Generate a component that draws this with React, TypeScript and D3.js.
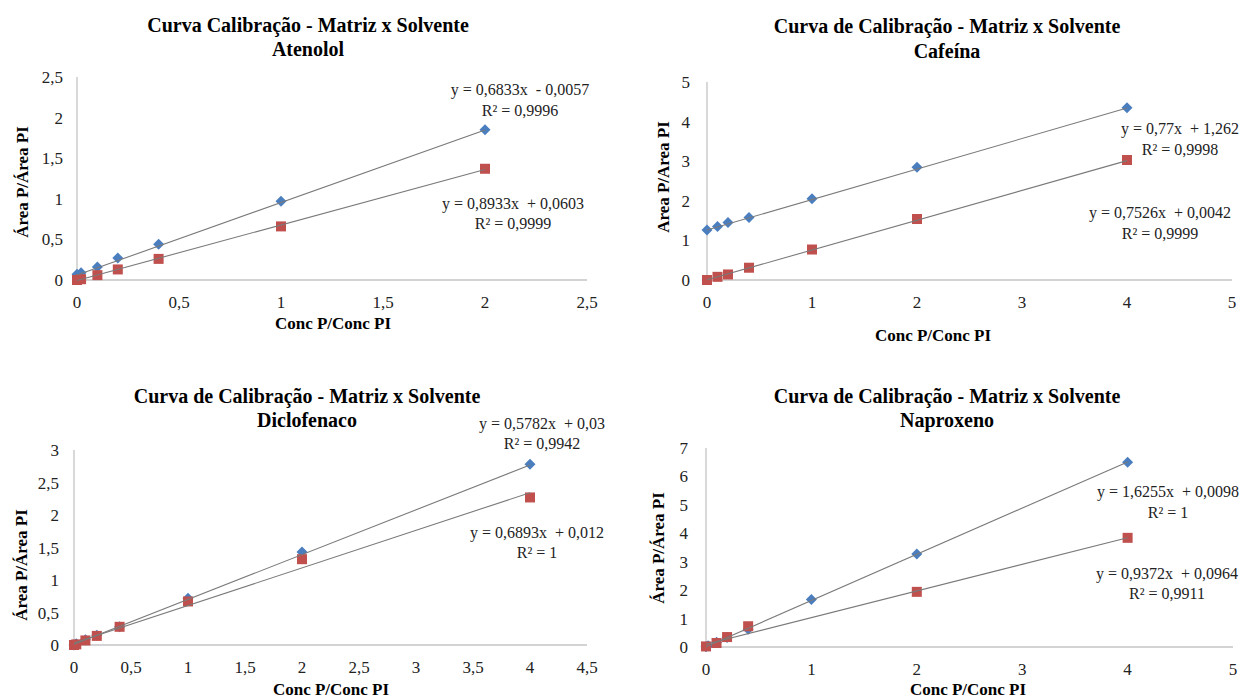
import React from 'react';
import * as d3 from 'd3';

// ---------- DATA ----------
const panelTitles1 = [
  'Curva Calibração - Matriz x Solvente',
  'Curva de Calibração - Matriz x Solvente',
  'Curva de Calibração - Matriz x Solvente',
  'Curva de Calibração - Matriz x Solvente',
];
const panelTitles2 = ['Atenolol', 'Cafeína', 'Diclofenaco', 'Naproxeno'];
const yAxisTitles = ['Área P/Área PI', 'Area P/Area PI', 'Área P/Área PI', 'Área P/Área PI'];
const xAxisTitle = 'Conc P/Conc PI';

// Atenolol
const atenololXBlue = [0, 0.02, 0.1, 0.2, 0.4, 1, 2];
const atenololBlue = [0.07, 0.09, 0.16, 0.27, 0.44, 0.97, 1.85];
const atenololXRed = [0, 0.02, 0.1, 0.2, 0.4, 1, 2];
const atenololRed = [0, 0.01, 0.06, 0.13, 0.26, 0.66, 1.37];
// Cafeína
const cafeinaXBlue = [0, 0.1, 0.2, 0.4, 1, 2, 4];
const cafeinaBlue = [1.26, 1.35, 1.45, 1.58, 2.05, 2.85, 4.35];
const cafeinaXRed = [0, 0.1, 0.2, 0.4, 1, 2, 4];
const cafeinaRed = [0, 0.08, 0.14, 0.31, 0.77, 1.54, 3.03];
// Diclofenaco
const diclofenacoXBlue = [0, 0.02, 0.1, 0.2, 0.4, 1, 2, 4];
const diclofenacoBlue = [0, 0.02, 0.08, 0.15, 0.28, 0.72, 1.43, 2.78];
const diclofenacoXRed = [0, 0.02, 0.1, 0.2, 0.4, 1, 2, 4];
const diclofenacoRed = [0, 0.01, 0.07, 0.14, 0.28, 0.67, 1.32, 2.27];
// Naproxeno
const naproxenoXBlue = [0, 0.02, 0.1, 0.2, 0.4, 1, 2, 4];
const naproxenoBlue = [0.01, 0.04, 0.17, 0.33, 0.62, 1.67, 3.27, 6.5];
const naproxenoXRed = [0, 0.1, 0.2, 0.4, 2, 4];
const naproxenoRed = [0.02, 0.14, 0.35, 0.73, 1.94, 3.84];

// trendlines [slope, intercept] for blue and red series
const trendBlue = [[0.8933, 0.0603], [0.77, 1.262], [0.6893, 0.012], [1.6255, 0.0098]];
const trendRed = [[0.6833, -0.0057], [0.7526, 0.0042], [0.5782, 0.03], [0.9372, 0.0964]];

// equation labels (upper pair, lower pair)
const eqUpper = [
  ['y = 0,6833x  - 0,0057', 'R² = 0,9996'],
  ['y = 0,77x  + 1,262', 'R² = 0,9998'],
  ['y = 0,5782x  + 0,03', 'R² = 0,9942'],
  ['y = 1,6255x  + 0,0098', 'R² = 1'],
];
const eqLower = [
  ['y = 0,8933x  + 0,0603', 'R² = 0,9999'],
  ['y = 0,7526x  + 0,0042', 'R² = 0,9999'],
  ['y = 0,6893x  + 0,012', 'R² = 1'],
  ['y = 0,9372x  + 0,0964', 'R² = 0,9911'],
];

// axis tick values
const xTicks = [
  [0, 0.5, 1, 1.5, 2, 2.5],
  [0, 1, 2, 3, 4, 5],
  [0, 0.5, 1, 1.5, 2, 2.5, 3, 3.5, 4, 4.5],
  [0, 1, 2, 3, 4, 5],
];
const yTicks = [
  [0, 0.5, 1, 1.5, 2, 2.5],
  [0, 1, 2, 3, 4, 5],
  [0, 0.5, 1, 1.5, 2, 2.5, 3],
  [0, 1, 2, 3, 4, 5, 6, 7],
];

// ---------- LAYOUT ----------
const layouts = [
  { left: 77, right: 587, top: 77, bottom: 280, titleX: 308, t1Y: 32, t2Y: 56, xtY: 308, ytX: 63, xTitleX: 333, xTitleY: 329, yTitleX: 22, yTitleY: 182, eqU: [520, 95, 116], eqL: [513, 209, 229] },
  { left: 707, right: 1232, top: 82, bottom: 280, titleX: 947, t1Y: 33, t2Y: 58, xtY: 308, ytX: 690, xTitleX: 933, xTitleY: 341, yTitleX: 663, yTitleY: 177, eqU: [1180, 134, 155], eqL: [1160, 218, 239] },
  { left: 74, right: 587, top: 450, bottom: 645, titleX: 307, t1Y: 403, t2Y: 427, xtY: 673, ytX: 59, xTitleX: 331, xTitleY: 695, yTitleX: 21, yTitleY: 565, eqU: [542, 429, 449], eqL: [537, 538, 558] },
  { left: 706, right: 1233, top: 448, bottom: 647, titleX: 947, t1Y: 403, t2Y: 427, xtY: 675, ytX: 688, xTitleX: 968, xTitleY: 695, yTitleX: 658, yTitleY: 548, eqU: [1168, 497, 518], eqL: [1167, 579, 599] },
];

const seriesBlue = [
  [atenololXBlue, atenololBlue],
  [cafeinaXBlue, cafeinaBlue],
  [diclofenacoXBlue, diclofenacoBlue],
  [naproxenoXBlue, naproxenoBlue],
];
const seriesRed = [
  [atenololXRed, atenololRed],
  [cafeinaXRed, cafeinaRed],
  [diclofenacoXRed, diclofenacoRed],
  [naproxenoXRed, naproxenoRed],
];

const FONT = '"Liberation Serif", "Times New Roman", Times, serif';
const BLUE = '#4a7ebf';
const RED = '#c0504d';
const fmt = (v: number) => String(v).replace('.', ',');

function Panel({ i }: { i: number }) {
  const L = layouts[i];
  const xt = xTicks[i];
  const yt = yTicks[i];
  const x = d3.scaleLinear().domain([0, xt[xt.length - 1]]).range([L.left, L.right]);
  const y = d3.scaleLinear().domain([0, yt[yt.length - 1]]).range([L.bottom, L.top]);
  const [bx, by] = seriesBlue[i];
  const [rx, ry] = seriesRed[i];
  const line = d3.line<[number, number]>().x((d) => x(d[0])).y((d) => y(d[1]));
  const trend = (xs: number[], t: number[]) => {
    const x0 = d3.min(xs) as number;
    const x1 = d3.max(xs) as number;
    return line([[x0, t[0] * x0 + t[1]], [x1, t[0] * x1 + t[1]]]) as string;
  };
  const diamond = (cx: number, cy: number) => {
    const r = 5.5;
    return `M${cx},${cy - r}L${cx + r},${cy}L${cx},${cy + r}L${cx - r},${cy}Z`;
  };
  return (
    <g>
      <text x={L.titleX} y={L.t1Y} textAnchor="middle" fontFamily={FONT} fontWeight="bold" fontSize={20} fill="#000">{panelTitles1[i]}</text>
      <text x={L.titleX} y={L.t2Y} textAnchor="middle" fontFamily={FONT} fontWeight="bold" fontSize={20} fill="#000">{panelTitles2[i]}</text>
      {/* axes */}
      <line x1={x(0)} x2={L.right} y1={y(0)} y2={y(0)} stroke="#c4c4c4" strokeWidth={1.3} />
      <line x1={x(0)} x2={x(0)} y1={y(0)} y2={L.top} stroke="#c4c4c4" strokeWidth={1.3} />
      {xt.map((v) => (
        <text key={'x' + v} x={x(v)} y={L.xtY} textAnchor="middle" fontFamily={FONT} fontSize={17} fill="#222">{fmt(v)}</text>
      ))}
      {yt.map((v) => (
        <text key={'y' + v} x={L.ytX} y={y(v) + 6} textAnchor="end" fontFamily={FONT} fontSize={17} fill="#222">{fmt(v)}</text>
      ))}
      <text x={L.xTitleX} y={L.xTitleY} textAnchor="middle" fontFamily={FONT} fontWeight="bold" fontSize={17} fill="#000">{xAxisTitle}</text>
      <text transform={`translate(${L.yTitleX},${L.yTitleY}) rotate(-90)`} textAnchor="middle" dominantBaseline="central" fontFamily={FONT} fontWeight="bold" fontSize={17} fill="#000">{yAxisTitles[i]}</text>
      {/* markers */}
      {bx.map((v, k) => (
        <path key={'b' + k} d={diamond(x(v), y(by[k]))} fill={BLUE} />
      ))}
      {rx.map((v, k) => (
        <rect key={'r' + k} x={x(v) - 5} y={y(ry[k]) - 5} width={10} height={10} fill={RED} />
      ))}
      {/* trendlines */}
      <path d={trend(bx, trendBlue[i])} stroke="#7a7a7a" strokeWidth={1.1} fill="none" />
      <path d={trend(rx, trendRed[i])} stroke="#7a7a7a" strokeWidth={1.1} fill="none" />
      {/* equations */}
      <text x={L.eqU[0]} y={L.eqU[1]} textAnchor="middle" fontFamily={FONT} fontSize={16} fill="#222" style={{ whiteSpace: 'pre' }}>{eqUpper[i][0]}</text>
      <text x={L.eqU[0]} y={L.eqU[2]} textAnchor="middle" fontFamily={FONT} fontSize={16} fill="#222">{eqUpper[i][1]}</text>
      <text x={L.eqL[0]} y={L.eqL[1]} textAnchor="middle" fontFamily={FONT} fontSize={16} fill="#222" style={{ whiteSpace: 'pre' }}>{eqLower[i][0]}</text>
      <text x={L.eqL[0]} y={L.eqL[2]} textAnchor="middle" fontFamily={FONT} fontSize={16} fill="#222">{eqLower[i][1]}</text>
    </g>
  );
}

export default function App() {
  return (
    <svg width={1246} height={698} style={{ position: 'absolute', left: 0, top: 0, background: '#fff' }}>
      <rect width={1246} height={698} fill="#fff" />
      {[0, 1, 2, 3].map((i) => (
        <Panel key={i} i={i} />
      ))}
    </svg>
  );
}
